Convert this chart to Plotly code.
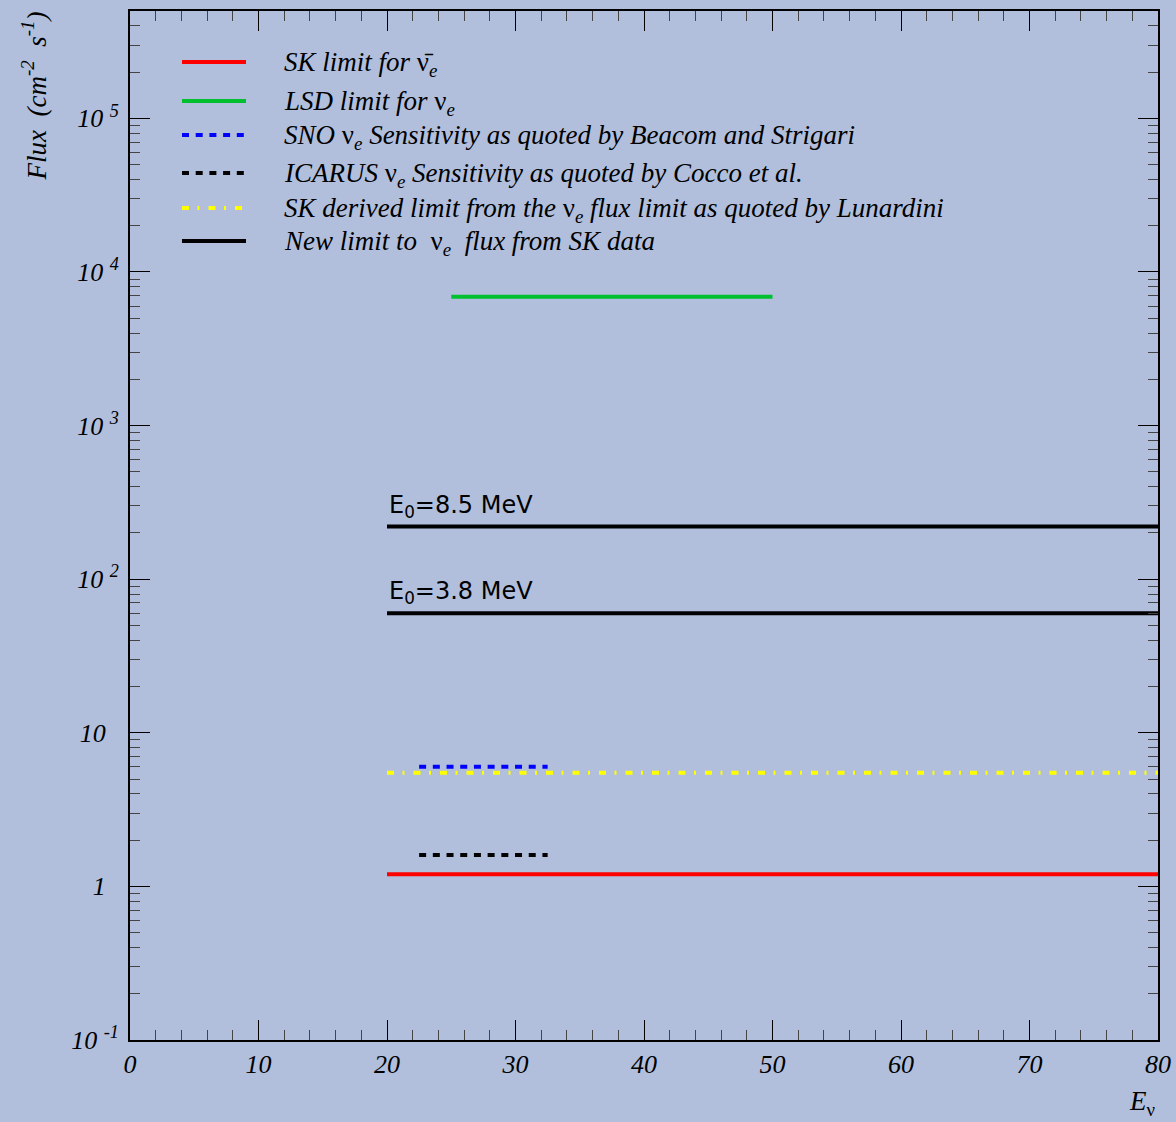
import numpy as np
import plotly.graph_objects as go

# ---- data ----
series_names = ["SK limit for </i>ν̄<i><sub>e</sub>", "LSD limit for </i>ν<i><sub>e</sub>",
                "SNO </i>ν<i><sub>e</sub> Sensitivity as quoted by Beacom and Strigari",
                "ICARUS </i>ν<i><sub>e</sub> Sensitivity as quoted by Cocco et al.",
                "SK derived limit from the </i>ν<i><sub>e</sub> flux limit as quoted by Lunardini",
                "New limit to  </i>ν<i><sub>e</sub>  flux from SK data"]
sk_x = [20, 80];     sk_y = [1.2, 1.2]
lsd_x = [25, 50];    lsd_y = [6900, 6900]
sno_x = [22.5, 32.5]; sno_y = [6.0, 6.0]
icarus_x = [22.5, 32.5]; icarus_y = [1.6, 1.6]
lun_x = [20, 80];    lun_y = [5.5, 5.5]
new85_x = [20, 80];  new85_y = [220, 220]
new38_x = [20, 80];  new38_y = [60, 60]
e0_labels = ["E<sub>0</sub>=8.5 MeV", "E<sub>0</sub>=3.8 MeV"]
x_ticks = [0, 10, 20, 30, 40, 50, 60, 70, 80]
y_tickvals = [0.1, 1, 10, 100, 1000, 1e4, 1e5]
y_ticktext = ["10&nbsp;<sup>-1</sup>", "1&nbsp;&nbsp;", "10&nbsp;&nbsp;", "10&nbsp;<sup>2</sup>",
              "10&nbsp;<sup>3</sup>", "10&nbsp;<sup>4</sup>", "10&nbsp;<sup>5</sup>"]

BG = "#B1BFDD"
SERIF = "Liberation Serif"

fig = go.Figure()
styles = [
    (sk_x, sk_y, dict(color="#FF0000", width=4)),
    (lsd_x, lsd_y, dict(color="#00C030", width=4)),
    (sno_x, sno_y, dict(color="#0000FF", width=4, dash="7px,6.7px")),
    (icarus_x, icarus_y, dict(color="#000000", width=4, dash="7px,6.7px")),
    (lun_x, lun_y, dict(color="#FFFF00", width=4, dash="7px,8.5px,2px,9px")),
    (new85_x, new85_y, dict(color="#000000", width=4)),
    (new38_x, new38_y, dict(color="#000000", width=4)),
]
for xs, ys, ln in styles:
    fig.add_trace(go.Scatter(x=xs, y=ys, mode="lines", line=ln, showlegend=False, hoverinfo="skip"))

# E0 labels
for lab, yv in zip(e0_labels, [new85_y[0], new38_y[0]]):
    fig.add_annotation(x=20, y=np.log10(yv), xref="x", yref="y", text=lab, showarrow=False,
                       xanchor="left", yanchor="bottom", xshift=0, yshift=3,
                       font=dict(family="DejaVu Sans", size=24, color="black"))

# custom legend
leg_styles = [
    dict(color="#FF0000", width=4),
    dict(color="#00C030", width=4),
    dict(color="#0000FF", width=4, dash="dot"),
    dict(color="#000000", width=4, dash="dot"),
    dict(color="#FFFF00", width=4, dash="dashdot"),
    dict(color="#000000", width=4),
]
leg_rows_px = [62, 101, 135, 173, 208, 241]
W, H = 1176, 1122
L, R, T, B = 130, 18, 11, 82
pw, ph = W - L - R, H - T - B
def px2paper(xp, yp):
    return (xp - L) / pw, 1 - (yp - T) / ph
for name, st, yp in zip(series_names, leg_styles, leg_rows_px):
    x0, y0 = px2paper(182, yp)
    x1, _ = px2paper(246, yp)
    dash = st.get("dash")
    fig.add_shape(type="line", xref="paper", yref="paper", x0=x0, x1=x1, y0=y0, y1=y0,
                  line=dict(color=st["color"], width=st["width"],
                            dash={"dot": "7px,6.7px", "dashdot": "7px,8.5px,2px,9px"}.get(dash, "solid")))
    tx, ty = px2paper(282, yp + 2)
    fig.add_annotation(xref="paper", yref="paper", x=tx, y=ty, text="<i>" + name + "</i>",
                       showarrow=False, xanchor="left", yanchor="middle",
                       font=dict(family=SERIF, size=27, color="black"))

# axis titles
fig.add_annotation(xref="paper", yref="paper", x=px2paper(35, 0)[0], y=px2paper(0, 10)[1],
                   text="<i>Flux  (cm<sup>-2</sup>  s<sup>-1</sup>)</i>", textangle=-90, showarrow=False,
                   xanchor="center", yanchor="top", font=dict(family=SERIF, size=27, color="black"))
fig.add_annotation(xref="paper", yref="paper", x=1.0, y=px2paper(0, 1103)[1],
                   text="<i>E</i><sub>ν</sub>", showarrow=False, xanchor="right", yanchor="middle",
                   font=dict(family=SERIF, size=27, color="black"))

minor_y = []
for d in range(-1, 6):
    for m in range(2, 10):
        v = m * 10 ** d
        if v < 5e5:
            minor_y.append(v)

fig.update_layout(
    width=W, height=H, paper_bgcolor=BG, plot_bgcolor=BG,
    margin=dict(l=L, r=R, t=T, b=B, autoexpand=False),
    showlegend=False,
    xaxis=dict(range=[0, 80], tickvals=x_ticks, ticks="inside", ticklen=20, tickwidth=1,
               tickcolor="black", showline=True, linecolor="black", linewidth=2, mirror="ticks",
               showgrid=False, zeroline=False, automargin=False,
               tickfont=dict(family=SERIF, size=26, color="black"),
               ticktext=["<i>%d</i>" % v for v in x_ticks],
               minor=dict(dtick=2, ticks="inside", ticklen=10, tickcolor="#444", showgrid=False)),
    yaxis=dict(type="log", range=[-1, np.log10(5e5)], tickvals=y_tickvals,
               ticktext=["<i>" + t + "</i>" for t in y_ticktext],
               ticks="inside", ticklen=20, tickwidth=1, tickcolor="black",
               showline=True, linecolor="black", linewidth=2, mirror="ticks",
               showgrid=False, zeroline=False, ticklabelstandoff=4, automargin=False,
               tickfont=dict(family=SERIF, size=26, color="black"),
               minor=dict(tickvals=minor_y, ticks="inside", ticklen=10, tickcolor="#444", showgrid=False)),
)
fig.write_html("out.html", config={"displayModeBar": False},
               post_script="document.body.style.margin='0';document.body.style.background='%s';" % BG)
